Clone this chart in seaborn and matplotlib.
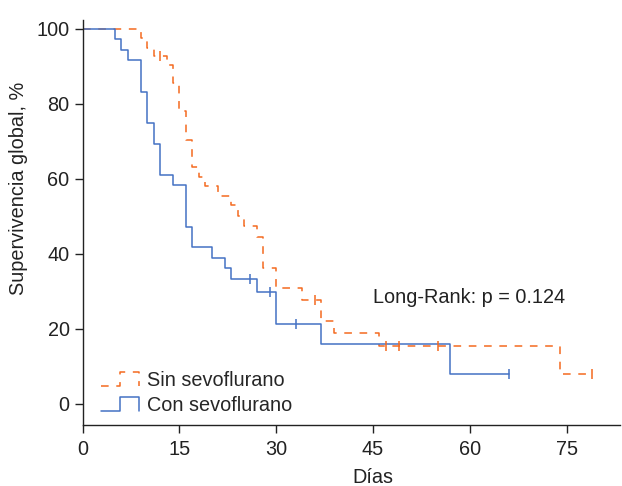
import pandas as pd
import matplotlib
matplotlib.use("Agg")
import matplotlib.pyplot as plt
import seaborn as sns
from matplotlib.legend_handler import HandlerBase
from matplotlib.lines import Line2D

# Kaplan-Meier steps (days, % survival)
sin_t = [0, 9, 10, 11, 13, 14, 15, 16, 17, 18, 19, 21, 23, 24, 25, 27, 28, 30, 34, 37, 39, 46, 74, 79]
sin_s = [100, 97.7, 94.8, 92.8, 90.4, 85.5, 78.2, 70.4, 63.1, 60.4, 58.0, 55.5, 53.1, 50.2, 47.3,
         44.6, 36.3, 30.8, 27.7, 22.0, 18.8, 15.5, 8.0, 8.0]
sin_cens_t = [12, 36, 47, 49, 55, 79]
sin_cens_s = [92.8, 27.7, 15.5, 15.5, 15.5, 8.0]

con_t = [0, 5, 6, 7, 9, 10, 11, 12, 14, 16, 17, 20, 22, 23, 27, 30, 37, 57, 66]
con_s = [100, 97.2, 94.4, 91.7, 83.3, 75.0, 69.4, 61.1, 58.3, 47.2, 41.7, 38.9, 36.1, 33.3,
         29.7, 21.2, 15.9, 7.9, 7.9]
con_cens_t = [26, 29, 33, 66]
con_cens_s = [33.3, 29.7, 21.2, 7.9]

groups = ["Sin sevoflurano", "Con sevoflurano"]
colors = {"Sin sevoflurano": "#F46A1F", "Con sevoflurano": "#4472C4"}

df = pd.concat([
    pd.DataFrame({"dias": sin_t, "surv": sin_s, "grupo": groups[0]}),
    pd.DataFrame({"dias": con_t, "surv": con_s, "grupo": groups[1]}),
])

sns.set_style("ticks")
plt.rcParams["font.family"] = ["Liberation Sans", "DejaVu Sans"]
fs = 14.3


class StepHandler(HandlerBase):
    # legend key drawn as a small step: _|"|
    def create_artists(self, legend, orig_handle, xdescent, ydescent, width, height, fontsize, trans):
        x0, y0 = -xdescent, -ydescent
        xm = x0 + width * 0.5
        xs = [x0, xm, xm, x0 + width, x0 + width]
        ys = [y0, y0, y0 + height, y0 + height, y0]
        line = Line2D(xs, ys)
        line.update_from(orig_handle)
        line.set_marker("")
        line.set_transform(trans)
        return [line]


fig = plt.figure(figsize=(6.22, 4.86), dpi=100)
ax = fig.add_axes([0.133, 0.126, 0.864, 0.833])

sns.lineplot(data=df, x="dias", y="surv", hue="grupo", style="grupo",
             palette=colors, dashes={groups[0]: (5, 5), groups[1]: ""},
             drawstyle="steps-post", estimator=None, sort=False,
             linewidth=1.1, legend=False, ax=ax)

ax.plot(sin_cens_t, sin_cens_s, ls="none", marker="|", ms=7, mew=1.1, color=colors[groups[0]])
ax.plot(con_cens_t, con_cens_s, ls="none", marker="|", ms=7, mew=1.1, color=colors[groups[1]])

ax.text(45, 28.3, "Long-Rank: p = 0.124", ha="left", va="center", fontsize=fs, color="#222222")

ax.set_xlim(0, 83.3)
ax.set_ylim(-5.6, 102.4)
ax.set_xticks([0, 15, 30, 45, 60, 75])
ax.set_yticks([0, 20, 40, 60, 80, 100])
ax.tick_params(direction="out", length=5.5, width=1, colors="#222222", labelsize=fs)
ax.tick_params(axis="x", pad=5.5)
ax.tick_params(axis="y", pad=4)
for side in ["left", "bottom"]:
    ax.spines[side].set_color("#222222")
    ax.spines[side].set_linewidth(1)
sns.despine(ax=ax)

ax.set_xlabel("Días", fontsize=fs, x=0.54, labelpad=6.5, color="#222222")
ax.set_ylabel("Supervivencia global, %", fontsize=fs, y=0.585, labelpad=6, color="#222222")

handles = [Line2D([], [], color=colors[groups[0]], lw=1.1, ls=(0, (5, 5))),
           Line2D([], [], color=colors[groups[1]], lw=1.1)]
ax.legend(handles, groups, handler_map={Line2D: StepHandler()}, loc="lower left",
          frameon=False, fontsize=fs, handlelength=1.9, handletextpad=0.45,
          labelspacing=0.3, borderaxespad=0.4, bbox_to_anchor=(0.004, -0.015))

fig.savefig("out.png", dpi=100)
